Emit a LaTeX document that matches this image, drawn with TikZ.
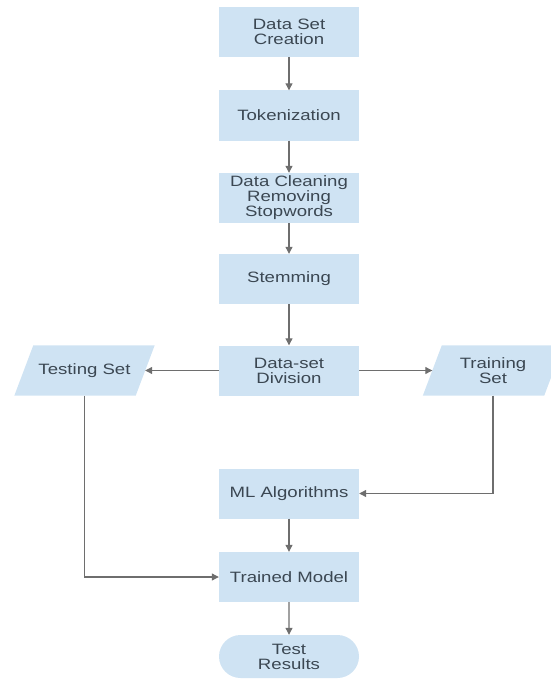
\documentclass[tikz,border=0pt]{standalone}
\usepackage{fontspec}
\setmainfont[FakeStretch=1.24]{Liberation Sans}
\usetikzlibrary{arrows.meta,shapes.misc,backgrounds}
\definecolor{boxfill}{HTML}{CFE3F3}
\definecolor{txt}{HTML}{3B4752}
\definecolor{ln}{HTML}{6E6E6E}
\begin{document}
\begin{tikzpicture}[x=1pt,y=-1pt,
  lbl/.style={inner sep=0pt, align=center, text=txt, font=\fontsize{15}{15}\selectfont},
  proc/.style={lbl, rectangle, fill=boxfill, minimum width=140pt, minimum height=50pt},
  io/.style={lbl, rectangle, minimum width=121pt, minimum height=50pt},
  term/.style={lbl, rounded rectangle, fill=boxfill, minimum width=140pt, minimum height=43pt},
  conn/.style={draw=ln, line width=1.1pt, -{Triangle[length=7pt,width=7pt]}}]
\useasboundingbox (0,0) rectangle (550,682);
\node[proc] (a) at (289,32) {Data Set\\Creation};
\node[proc] (b) at (289,115.5) {Tokenization};
\node[proc] (c) at (289,198) {Data Cleaning\\Removing\\Stopwords};
\node[proc] (d) at (289,279) {Stemming};
\node[proc] (e) at (289,370.5) {Data-set\\Division};
\node[io] (f) at (84.5,370.5) {Testing Set};
\node[io] (g) at (493,370.5) {Training\\Set};
\node[proc] (h) at (289,493.5) {ML Algorithms};
\node[proc] (i) at (289,577) {Trained Model};
\node[term] (j) at (289,656.5) {Test\\Results};
\begin{scope}[on background layer]
\foreach \n in {f,g}
  \fill[boxfill] ([xshift=-9.5pt]\n.south west) -- ([xshift=9.5pt]\n.north west)
    -- ([xshift=9.5pt]\n.north east) -- ([xshift=-9.5pt]\n.south east) -- cycle;
\end{scope}
\draw[conn] (a) -- (b);
\draw[conn] (b) -- (c);
\draw[conn] (c) -- (d);
\draw[conn] (d) -- (e);
\draw[conn] (e) -- (f);
\draw[conn] (e) -- (g);
\draw[conn] (g.south) |- (h.east);
\draw[conn] (h) -- (i);
\draw[conn] (i) -- (j);
\draw[conn] (f.south) |- (i.west);
\end{tikzpicture}
\end{document}
